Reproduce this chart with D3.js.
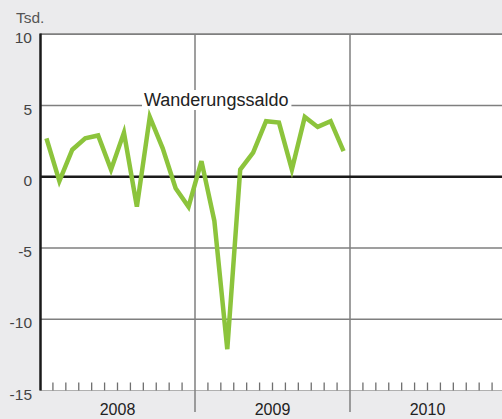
<!DOCTYPE html>
<html>
<head>
<meta charset="utf-8">
<script src="https://cdn.jsdelivr.net/npm/d3@7"></script>
<style>
  body { margin: 0; background: #ebebed; }
  svg { display: block; font-family: "Liberation Sans", Arial, sans-serif; }
</style>
</head>
<body>
<div id="chart"></div>
<script>
// monthly values (Tsd.), Jan 2008 .. Dec 2009
var values2008 = [2.7, -0.3, 1.9, 2.7, 2.9, 0.5, 3.1, -2.1, 4.2, 2.0, -0.8, -2.1];
var values2009 = [1.1, -3.1, -12.1, 0.5, 1.7, 3.9, 3.8, 0.5, 4.2, 3.5, 3.9, 1.8];
var years = ["2008", "2009", "2010"];
var yTicks = [10, 5, 0, -5, -10, -15];
var seriesName = "Wanderungssaldo";
var unitLabel = "Tsd.";

var width = 502,
    height = 419;

var margin = {top: 34.3, right: -3, bottom: 28.5, left: 40};

var svg = d3.select("#chart")
  .append("svg")
    .attr("width", width)
    .attr("height", height);

svg.append("rect")
  .attr("width", width).attr("height", height)
  .attr("fill", "#ebebed");

var data = values2008.concat(values2009).map(function(v, i) { return {m: i, v: v}; });

var x = d3.scaleLinear()
  .domain([0, years.length * 12])
  .range([margin.left, width - margin.right]);

var y = d3.scaleLinear()
  .domain([-15, 10])
  .range([height - margin.bottom, margin.top]);

// plot area
svg.append("rect")
  .attr("x", x(0)).attr("y", y(10))
  .attr("width", x(36) - x(0)).attr("height", y(-15) - y(10))
  .attr("fill", "#fff");

// horizontal grid
svg.append("g")
  .selectAll("line")
  .data(yTicks.filter(function(d) { return d !== 0 && d !== -15; }))
  .enter()
  .append("line")
    .attr("x1", x(0)).attr("x2", x(36))
    .attr("y1", function(d) { return y(d); })
    .attr("y2", function(d) { return y(d); })
    .attr("stroke", "#7f7f7f")
    .attr("stroke-width", 1.5);

// bottom baseline
svg.append("line")
  .attr("x1", x(0)).attr("x2", x(36))
  .attr("y1", y(-15)).attr("y2", y(-15))
  .attr("stroke", "#b0b0b0")
  .attr("stroke-width", 1);

// month ticks
svg.append("g")
  .selectAll("line")
  .data(d3.range(1, 36).filter(function(m) { return m % 12 !== 0; }))
  .enter()
  .append("line")
    .attr("x1", function(d) { return x(d); })
    .attr("x2", function(d) { return x(d); })
    .attr("y1", y(-15)).attr("y2", y(-15) - 8)
    .attr("stroke", "#6f6f6f")
    .attr("stroke-width", 1.3);

// year dividers
svg.append("g")
  .selectAll("line")
  .data([12, 24])
  .enter()
  .append("line")
    .attr("x1", function(d) { return x(d); })
    .attr("x2", function(d) { return x(d); })
    .attr("y1", y(10)).attr("y2", 412)
    .attr("stroke", "#7f7f7f")
    .attr("stroke-width", 1.5);

// year labels
svg.append("g")
  .selectAll("text")
  .data(years)
  .enter()
  .append("text")
    .attr("x", function(d, i) { return x(i * 12 + 6); })
    .attr("y", 415)
    .attr("text-anchor", "middle")
    .attr("font-size", "16px")
    .attr("fill", "#222")
    .text(function(d) { return d; });

// y labels
svg.append("g")
  .selectAll("text")
  .data(yTicks)
  .enter()
  .append("text")
    .attr("x", 32)
    .attr("y", function(d) { return y(d) + 9; })
    .attr("text-anchor", "end")
    .attr("font-size", "15.5px")
    .attr("fill", "#444")
    .text(function(d) { return d; });

svg.append("text")
  .attr("x", 16).attr("y", 22.5)
  .attr("font-size", "15.5px")
  .attr("fill", "#555")
  .text(unitLabel);

// top border
svg.append("line")
  .attr("x1", x(0)).attr("x2", x(36))
  .attr("y1", y(10)).attr("y2", y(10))
  .attr("stroke", "#7f7f7f")
  .attr("stroke-width", 1.5);

// zero line
svg.append("line")
  .attr("x1", x(0)).attr("x2", x(36))
  .attr("y1", y(0)).attr("y2", y(0))
  .attr("stroke", "#1a1a1a")
  .attr("stroke-width", 2.5);

// left axis
svg.append("line")
  .attr("x1", x(0) + 0.5).attr("x2", x(0) + 0.5)
  .attr("y1", y(10) - 0.7).attr("y2", y(-15))
  .attr("stroke", "#1a1a1a")
  .attr("stroke-width", 2.5);

// series label with white knock-out
var label = svg.append("text")
  .attr("x", 144).attr("y", 106)
  .attr("font-size", "18px")
  .attr("fill", "#222")
  .text(seriesName);
var bb = label.node().getBBox();
svg.insert("rect", function() { return label.node(); })
  .attr("x", bb.x - 2).attr("y", bb.y)
  .attr("width", bb.width + 5).attr("height", bb.height)
  .attr("fill", "#fff");

// line
var line = d3.line()
  .x(function(d) { return x(d.m + 0.5); })
  .y(function(d) { return y(d.v); });

svg.append("path")
  .datum(data)
  .attr("d", line)
  .attr("fill", "none")
  .attr("stroke", "#8cc43c")
  .attr("stroke-width", 4.5)
  .attr("stroke-linejoin", "miter");
</script>
</body>
</html>
